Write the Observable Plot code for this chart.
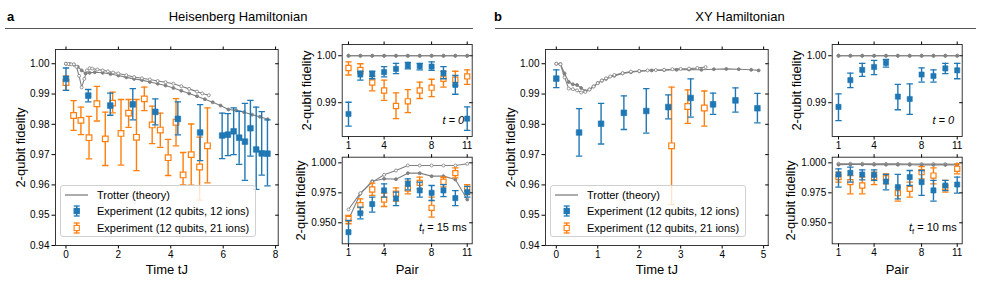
<!DOCTYPE html>
<html><head><meta charset="utf-8">
<script src="https://cdn.jsdelivr.net/npm/d3@7"></script>
<script src="https://cdn.jsdelivr.net/npm/@observablehq/plot@0.6"></script>
<style>
body{margin:0;background:#fff;font-family:'Liberation Sans',Arial,sans-serif;}
#fig{position:relative;width:981px;height:284px;overflow:hidden;background:#fff;}
.hdr{position:absolute;font-size:13px;line-height:14px;color:#000;white-space:nowrap;}
.rule{position:absolute;height:0;border-top:1.2px solid #555;}
.legend{position:absolute;background:rgba(255,255,255,0.8);border:1px solid #d0d0d0;border-radius:3px;font-size:11px;box-sizing:border-box;padding-top:1px;color:#000;}
.legend .row{display:flex;align-items:center;height:16.3px;white-space:nowrap;}
.legend svg{flex:none;}
</style></head><body><div id="fig"></div>
<script>
// ---------------- data ----------------
const pairs = [1, 2, 3, 4, 5, 6, 7, 8, 9, 10, 11];

// Panel a (Heisenberg) – fidelity vs time
const aT12  = [0, 0.85, 1.69, 2.55, 3.41, 4.27, 5.12, 5.96, 6.18, 6.40, 6.61, 6.83, 7.04, 7.26, 7.47, 7.69];
const aF12  = [0.9950, 0.9895, 0.9862, 0.9866, 0.9841, 0.9818, 0.9773, 0.9763, 0.9766, 0.9777, 0.9756, 0.9743, 0.9787, 0.9717, 0.9704, 0.9703];
const aLo12 = [0.9912, 0.9874, 0.9830, 0.9815, 0.9798, 0.9765, 0.9680, 0.9687, 0.9697, 0.9700, 0.9668, 0.9615, 0.9695, 0.9585, 0.9632, 0.9597];
const aHi12 = [0.9986, 0.9915, 0.9903, 0.9918, 0.9884, 0.9874, 0.9865, 0.9837, 0.9835, 0.9854, 0.9843, 0.9869, 0.9879, 0.9857, 0.9842, 0.9815];
const aT21  = [0, 0.29, 0.57, 0.88, 1.18, 1.50, 1.78, 2.10, 2.39, 2.69, 2.99, 3.29, 3.60, 3.90, 4.20, 4.47, 4.78, 5.10, 5.40];
const aF21  = [0.9938, 0.9829, 0.9813, 0.9756, 0.9868, 0.9752, 0.9870, 0.9770, 0.9837, 0.9757, 0.9884, 0.9798, 0.9781, 0.9690, 0.9807, 0.9633, 0.9700, 0.9659, 0.9729];
const aLo21 = [0.9912, 0.9780, 0.9766, 0.9686, 0.9811, 0.9664, 0.9838, 0.9665, 0.9790, 0.9647, 0.9845, 0.9736, 0.9724, 0.9631, 0.9729, 0.9600, 0.9599, 0.9550, 0.9607];
const aHi21 = [0.9960, 0.9878, 0.9857, 0.9826, 0.9925, 0.9840, 0.9906, 0.9882, 0.9882, 0.9882, 0.9923, 0.9860, 0.9837, 0.9750, 0.9885, 0.9707, 0.9801, 0.9758, 0.9854];
const aThHollowT = [0, 0.1, 0.2, 0.3, 0.4, 0.5, 0.6, 0.7, 0.8, 0.9, 1.0, 1.2, 1.4, 1.6, 1.8, 2.0, 2.3, 2.6, 2.9, 3.2, 3.5, 3.8, 4.1, 4.4, 4.7, 5.0, 5.2, 5.45];
const aThHollowF = [1.0000, 0.9999, 0.9998, 0.9998, 0.9990, 0.9960, 0.9922, 0.9950, 0.9978, 0.9985, 0.9984, 0.9981, 0.9978, 0.9975, 0.9971, 0.9968, 0.9962, 0.9956, 0.9952, 0.9948, 0.9943, 0.9939, 0.9934, 0.9926, 0.9917, 0.9908, 0.9902, 0.9896];
const aThFilledT = [0, 0.15, 0.3, 0.45, 0.6, 0.75, 0.9, 1.1, 1.4, 1.7, 2.0, 2.3, 2.6, 2.9, 3.2, 3.5, 3.8, 4.1, 4.4, 4.7, 5.0, 5.3, 5.6, 5.9, 6.2, 6.5, 6.8, 7.1, 7.4, 7.7];
const aThFilledF = [1.0000, 0.9999, 0.9997, 0.9990, 0.9978, 0.9968, 0.9970, 0.9972, 0.9970, 0.9966, 0.9961, 0.9955, 0.9950, 0.9946, 0.9940, 0.9934, 0.9928, 0.9920, 0.9911, 0.9902, 0.9893, 0.9883, 0.9873, 0.9862, 0.9849, 0.9846, 0.9840, 0.9832, 0.9825, 0.9817];

// Panel a – per pair, t = 0
const aP0F12  = [0.9876, 0.9960, 0.9960, 0.9965, 0.9972, 0.9979, 0.9978, 0.9977, 0.9963, 0.9938, 0.9866];
const aP0Lo12 = [0.9850, 0.9948, 0.9951, 0.9955, 0.9962, 0.9972, 0.9970, 0.9969, 0.9951, 0.9918, 0.9841];
const aP0Hi12 = [0.9901, 0.9967, 0.9967, 0.9977, 0.9984, 0.9986, 0.9984, 0.9987, 0.9977, 0.9958, 0.9891];
const aP0F21  = [0.9974, 0.9970, 0.9943, 0.9926, 0.9893, 0.9903, 0.9926, 0.9932, 0.9951, 0.9949, 0.9956];
const aP0Lo21 = [0.9959, 0.9962, 0.9925, 0.9905, 0.9866, 0.9879, 0.9909, 0.9913, 0.9933, 0.9937, 0.9939];
const aP0Hi21 = [0.9987, 0.9983, 0.9956, 0.9948, 0.9921, 0.9928, 0.9944, 0.9950, 0.9967, 0.9967, 0.9970];
const aP0ThHollow = [1.0000, 1.0000, 1.0000, 1.0000, 1.0000, 1.0000, 1.0000, 1.0000, 1.0000, 1.0000, 1.0000];
const aP0ThFilled = [1.0000, 1.0000, 1.0000, 1.0000, 1.0000, 1.0000, 1.0000, 1.0000, 1.0000, 1.0000, 1.0000];

// Panel a – per pair, t_f = 15 ms
const aPfF12  = [0.9422, 0.9580, 0.9656, 0.9770, 0.9703, 0.9825, 0.9770, 0.9750, 0.9770, 0.9706, 0.9756];
const aPfLo12 = [0.9325, 0.9533, 0.9589, 0.9714, 0.9644, 0.9775, 0.9714, 0.9686, 0.9719, 0.9644, 0.9714];
const aPfHi12 = [0.9520, 0.9630, 0.9714, 0.9825, 0.9756, 0.9867, 0.9839, 0.9811, 0.9819, 0.9769, 0.9803];
const aPfF21  = [0.9531, 0.9647, 0.9778, 0.9694, 0.9742, 0.9786, 0.9833, 0.9625, 0.9842, 0.9914, 0.9783];
const aPfLo21 = [0.9492, 0.9589, 0.9728, 0.9636, 0.9681, 0.9742, 0.9783, 0.9547, 0.9800, 0.9875, 0.9736];
const aPfHi21 = [0.9561, 0.9700, 0.9831, 0.9747, 0.9792, 0.9847, 0.9881, 0.9714, 0.9880, 0.9958, 0.9819];
const aPfThHollow = [0.9611, 0.9747, 0.9839, 0.9900, 0.9936, 0.9978, 0.9978, 0.9978, 0.9978, 0.9978, 0.9992];
const aPfThFilled = [0.9528, 0.9742, 0.9847, 0.9867, 0.9864, 0.9914, 0.9914, 0.9889, 0.9889, 0.9861, 0.9694];

// Panel b (XY) – fidelity vs time
const bT12  = [0, 0.55, 1.08, 1.63, 2.17, 2.70, 3.24, 3.78, 4.32, 4.85];
const bF12  = [0.9951, 0.9773, 0.9802, 0.9838, 0.9844, 0.9857, 0.9887, 0.9866, 0.9879, 0.9853];
const bLo12 = [0.9921, 0.9695, 0.9735, 0.9783, 0.9771, 0.9818, 0.9824, 0.9833, 0.9840, 0.9805];
const bHi12 = [0.9980, 0.9852, 0.9869, 0.9894, 0.9918, 0.9897, 0.9950, 0.9903, 0.9920, 0.9902];
const bT21  = [2.78, 3.17, 3.57];
const bF21  = [0.9729, 0.9859, 0.9854];
const bLo21 = [0.9536, 0.9803, 0.9794];
const bHi21 = [0.9923, 0.9914, 0.9910];
const bThHollowT = [0, 0.1, 0.2, 0.3, 0.4, 0.5, 0.6, 0.7, 0.8, 0.9, 1.0, 1.1, 1.2, 1.3, 1.4, 1.6, 1.8, 2.0, 2.2, 2.4, 2.6, 2.8, 3.0, 3.2, 3.4, 3.6];
const bThHollowF = [1.0000, 0.9998, 0.9955, 0.9918, 0.9916, 0.9912, 0.9905, 0.9907, 0.9915, 0.9925, 0.9936, 0.9945, 0.9952, 0.9958, 0.9963, 0.9969, 0.9974, 0.9976, 0.9978, 0.9979, 0.9980, 0.9982, 0.9983, 0.9984, 0.9986, 0.9989];
const bThFilledT = [0, 0.1, 0.2, 0.3, 0.4, 0.5, 0.6, 0.7, 0.8, 0.9, 1.0, 1.1, 1.2, 1.4, 1.6, 1.8, 2.0, 2.3, 2.6, 2.9, 3.2, 3.5, 3.8, 4.1, 4.4, 4.7, 4.88];
const bThFilledF = [1.0000, 0.9999, 0.9968, 0.9940, 0.9932, 0.9930, 0.9920, 0.9910, 0.9915, 0.9925, 0.9936, 0.9944, 0.9950, 0.9960, 0.9968, 0.9972, 0.9975, 0.9978, 0.9979, 0.9980, 0.9981, 0.9980, 0.9982, 0.9983, 0.9982, 0.9980, 0.9978];

// Panel b – per pair, t = 0
const bP0F12  = [0.9891, 0.9948, 0.9970, 0.9976, 0.9985, 0.9913, 0.9908, 0.9960, 0.9957, 0.9973, 0.9969];
const bP0Lo12 = [0.9862, 0.9932, 0.9956, 0.9960, 0.9976, 0.9885, 0.9875, 0.9944, 0.9944, 0.9962, 0.9951];
const bP0Hi12 = [0.9919, 0.9963, 0.9984, 0.9990, 0.9992, 0.9939, 0.9940, 0.9974, 0.9970, 0.9984, 0.9984];
const bP0ThHollow = [1.0000, 1.0000, 1.0000, 1.0000, 1.0000, 1.0000, 1.0000, 1.0000, 1.0000, 1.0000, 1.0000];
const bP0ThFilled = [1.0000, 1.0000, 1.0000, 1.0000, 1.0000, 1.0000, 1.0000, 1.0000, 1.0000, 1.0000, 1.0000];

// Panel b – per pair, t_f = 10 ms
const bPfF12  = [0.9903, 0.9917, 0.9903, 0.9900, 0.9844, 0.9797, 0.9881, 0.9839, 0.9770, 0.9811, 0.9819];
const bPfLo12 = [0.9797, 0.9839, 0.9858, 0.9853, 0.9775, 0.9700, 0.9811, 0.9728, 0.9681, 0.9769, 0.9747];
const bPfHi12 = [0.9950, 0.9964, 0.9942, 0.9942, 0.9903, 0.9903, 0.9936, 0.9936, 0.9853, 0.9853, 0.9881];
const bPfF21  = [0.9881, 0.9839, 0.9811, 0.9881, 0.9872, 0.9747, 0.9783, 0.9922, 0.9894, 0.9797, 0.9950];
const bPfLo21 = [0.9839, 0.9742, 0.9742, 0.9819, 0.9825, 0.9681, 0.9714, 0.9867, 0.9825, 0.9756, 0.9908];
const bPfHi21 = [0.9922, 0.9894, 0.9881, 0.9922, 0.9908, 0.9797, 0.9839, 0.9969, 0.9958, 0.9853, 0.9992];
const bPfThHollow = [0.9992, 0.9993, 0.9992, 0.9992, 0.9991, 0.9991, 0.9990, 0.9990, 0.9990, 0.9989, 0.9988];
const bPfThFilled = [0.9985, 0.9986, 0.9986, 0.9985, 0.9985, 0.9984, 0.9984, 0.9983, 0.9983, 0.9983, 0.9982];

// tick labels
const tTicksA = [0, 2, 4, 6, 8];
const tTicksB = [0, 1, 2, 3, 4, 5];
const pairTicks = [1, 4, 8, 11];
const fidTicksBig = [0.94, 0.95, 0.96, 0.97, 0.98, 0.99, 1.00];
const fidTicksT0 = [0.99, 1.00];
const fidTicksTf = [0.950, 0.975, 1.000];

// ---------------- drawing ----------------
const BLUE = "#1f77b4", ORANGE = "#ff7f0e", GRAY = "#808080";
const capSymbol = {draw(ctx, size) { const r = Math.sqrt(size / Math.PI); ctx.moveTo(-r, 0); ctx.lineTo(r, 0); }};
const rows = (X, Y, L, H) => X.map((x, i) => ({x, y: Y[i], lo: L ? L[i] : null, hi: H ? H[i] : null}));

function expMarks(data, color, open, r) {
  return [
    Plot.ruleX(data, {x: "x", y1: "lo", y2: "hi", stroke: color, strokeWidth: 1.4, clip: true}),
    Plot.dot(data, {x: "x", y: "lo", symbol: capSymbol, r: 3.2, stroke: color, strokeWidth: 1.3, clip: true}),
    Plot.dot(data, {x: "x", y: "hi", symbol: capSymbol, r: 3.2, stroke: color, strokeWidth: 1.3, clip: true}),
    Plot.dot(data, {x: "x", y: "y", symbol: "square", r, fill: open ? "white" : color, stroke: color, strokeWidth: open ? 1.2 : 0.6, clip: true})
  ];
}
function theoryMarks(series) {
  const out = [];
  for (const s of series) out.push(Plot.line(s.data, {x: "x", y: "y", stroke: GRAY, strokeWidth: 1.1, clip: true}));
  for (const s of series) out.push(Plot.dot(s.data, {x: "x", y: "y", r: 1.5, fill: s.hollow ? "white" : GRAY, stroke: GRAY, strokeWidth: 0.8, clip: true}));
  return out;
}

function panel(cfg) {
  const marks = [
    Plot.axisX({anchor: "bottom", ticks: cfg.xTicks, tickSize: 3.5, tickPadding: 2, label: null, tickFormat: d => String(d)}),
    Plot.axisX({anchor: "top", ticks: cfg.xTicks, tickSize: 3.5, label: null, tickFormat: () => ""}),
    Plot.axisY({anchor: "left", ticks: cfg.yTicks, tickSize: 3.5, tickPadding: 2.5, label: null, tickFormat: cfg.yFmt}),
    Plot.axisY({anchor: "right", ticks: cfg.yTicks, tickSize: -3.5, label: null, tickFormat: () => ""}),
    ...theoryMarks(cfg.theory),
    ...(cfg.e21 ? expMarks(cfg.e21, ORANGE, true, cfg.sq) : []),
    ...expMarks(cfg.e12, BLUE, false, cfg.sq),
    Plot.frame({stroke: "#222", strokeWidth: 0.9}),
    Plot.text([cfg.yLabel], {text: d => d, frameAnchor: "left", rotate: -90, dx: cfg.yLabelDx, textAnchor: "middle", lineAnchor: "middle", fontSize: 13})
  ];
  if (cfg.xLabel) marks.push(Plot.text([cfg.xLabel], {text: d => d, frameAnchor: "bottom", dy: cfg.xLabelDy, textAnchor: "middle", lineAnchor: "middle", fontSize: 13}));
  if (cfg.note) marks.push(Plot.text([cfg.note], {text: d => d, frameAnchor: "bottom-right", dx: -8, dy: -16, textAnchor: "end", lineAnchor: "middle", fontSize: 11, fontStyle: "italic"}));
  const svg = Plot.plot({
    width: cfg.W, height: cfg.H,
    marginLeft: cfg.mL, marginRight: cfg.mR, marginTop: cfg.mT, marginBottom: cfg.mB,
    x: {domain: cfg.xDom}, y: {domain: cfg.yDom},
    style: {fontFamily: "'Liberation Sans', Arial, sans-serif", fontSize: "10px", color: "#000", background: "transparent", overflow: "visible"},
    marks
  });
  svg.style.position = "absolute";
  svg.style.left = cfg.left + "px";
  svg.style.top = cfg.top + "px";
  svg.style.maxWidth = "none";
  svg.style.background = "transparent";
  svg.style.overflow = "visible";
  if (cfg.tf) {
    const t = d3.select(svg).append("text")
      .attr("x", cfg.W - cfg.mR - 5).attr("y", cfg.H - cfg.mB - 16).attr("dy", "0.35em")
      .attr("text-anchor", "end").attr("font-size", 11).attr("fill", "#000");
    t.append("tspan").attr("font-style", "italic").text("t");
    t.append("tspan").attr("font-size", 7.5).attr("dy", 3).text("f");
    t.append("tspan").attr("dy", -3).text(" = " + cfg.tf);
  }
  document.getElementById("fig").appendChild(svg);
}

const fig = document.getElementById("fig");
function addDiv(cls, style, html) {
  const d = document.createElement("div");
  d.className = cls; Object.assign(d.style, style); d.innerHTML = html || "";
  fig.appendChild(d);
}

// headers
addDiv("hdr", {left: "7px", top: "10px", fontWeight: "bold"}, "a");
addDiv("hdr", {left: "0px", top: "10px", width: "476px", textAlign: "center"}, "Heisenberg Hamiltonian");
addDiv("rule", {left: "5px", top: "28px", width: "468px"});
addDiv("hdr", {left: "494px", top: "10px", fontWeight: "bold"}, "b");
addDiv("hdr", {left: "500px", top: "10px", width: "480px", textAlign: "center"}, "XY Hamiltonian");
addDiv("rule", {left: "495px", top: "28px", width: "481px"});

const big = {W: 285, H: 244, mL: 55, mR: 7.3, mT: 9, mB: 39, top: 40, yDom: [0.94, 1.0047], yTicks: fidTicksBig, yFmt: ".2f",
  yLabel: "2-qubit fidelity", yLabelDx: -35, xLabel: "Time tJ", xLabelDy: 24, sq: 3.2};
const smallTop = {W: 190, H: 125, mL: 51.7, mR: 8.3, mT: 14, mB: 19, top: 30, xDom: [0.47, 11.42], xTicks: pairTicks,
  yDom: [0.9828, 1.0024], yTicks: fidTicksT0, yFmt: ".2f", yLabel: "2-qubit fidelity", yLabelDx: -35, sq: 2.9, note: "t = 0"};
const smallBot = {W: 190, H: 139, mL: 51.7, mR: 8.3, mT: 11.7, mB: 40.7, top: 145, xDom: [0.47, 11.42], xTicks: pairTicks,
  yDom: [0.9325, 1.0047], yTicks: fidTicksTf, yFmt: ".3f", yLabel: "2-qubit fidelity", yLabelDx: -41.7, xLabel: "Pair", xLabelDy: 26, sq: 2.9};

// Panel a
panel({...big, left: 0, xDom: [-0.4, 8.1], xTicks: tTicksA,
  theory: [{data: rows(aThFilledT, aThFilledF), hollow: false}, {data: rows(aThHollowT, aThHollowF), hollow: true}],
  e12: rows(aT12, aF12, aLo12, aHi12), e21: rows(aT21, aF21, aLo21, aHi21)});
panel({...smallTop, left: 290,
  theory: [{data: rows(pairs, aP0ThHollow), hollow: true}, {data: rows(pairs, aP0ThFilled), hollow: false}],
  e12: rows(pairs, aP0F12, aP0Lo12, aP0Hi12), e21: rows(pairs, aP0F21, aP0Lo21, aP0Hi21)});
panel({...smallBot, left: 290, tf: "15 ms",
  theory: [{data: rows(pairs, aPfThFilled), hollow: false}, {data: rows(pairs, aPfThHollow), hollow: true}],
  e12: rows(pairs, aPfF12, aPfLo12, aPfHi12), e21: rows(pairs, aPfF21, aPfLo21, aPfHi21)});

// Panel b
panel({...big, left: 490, xDom: [-0.26, 5.11], xTicks: tTicksB,
  theory: [{data: rows(bThFilledT, bThFilledF), hollow: false}, {data: rows(bThHollowT, bThHollowF), hollow: true}],
  e12: rows(bT12, bF12, bLo12, bHi12), e21: rows(bT21, bF21, bLo21, bHi21)});
panel({...smallTop, left: 780,
  theory: [{data: rows(pairs, bP0ThHollow), hollow: true}, {data: rows(pairs, bP0ThFilled), hollow: false}],
  e12: rows(pairs, bP0F12, bP0Lo12, bP0Hi12), e21: null});
panel({...smallBot, left: 780, tf: "10 ms",
  theory: [{data: rows(pairs, bPfThHollow), hollow: true}, {data: rows(pairs, bPfThFilled), hollow: false}],
  e12: rows(pairs, bPfF12, bPfLo12, bPfHi12), e21: rows(pairs, bPfF21, bPfLo21, bPfHi21)});

// legends
const legendNames = ["Trotter (theory)", "Experiment (12 qubits, 12 ions)", "Experiment (12 qubits, 21 ions)"];
const symLine = `<svg width="32" height="16"><line x1="0" x2="23" y1="8" y2="8" stroke="${GRAY}" stroke-width="1.3"/></svg>`;
const symErr = (c, fill) => `<svg width="32" height="16"><line x1="11.7" x2="11.7" y1="3" y2="13" stroke="${c}" stroke-width="1.4"/><line x1="8.7" x2="14.7" y1="3" y2="3" stroke="${c}" stroke-width="1.3"/><line x1="8.7" x2="14.7" y1="13" y2="13" stroke="${c}" stroke-width="1.3"/><rect x="9.1" y="5.4" width="5.2" height="5.2" fill="${fill}" stroke="${c}" stroke-width="1.1"/></svg>`;
function legend(left) {
  addDiv("legend", {left: left + "px", top: "185px", width: "196px", height: "52px", paddingLeft: "4px"},
    `<div class="row">${symLine}<span>${legendNames[0]}</span></div>` +
    `<div class="row">${symErr(BLUE, BLUE)}<span>${legendNames[1]}</span></div>` +
    `<div class="row">${symErr(ORANGE, "white")}<span>${legendNames[2]}</span></div>`);
}
legend(60);
legend(550);
</script></body></html>
